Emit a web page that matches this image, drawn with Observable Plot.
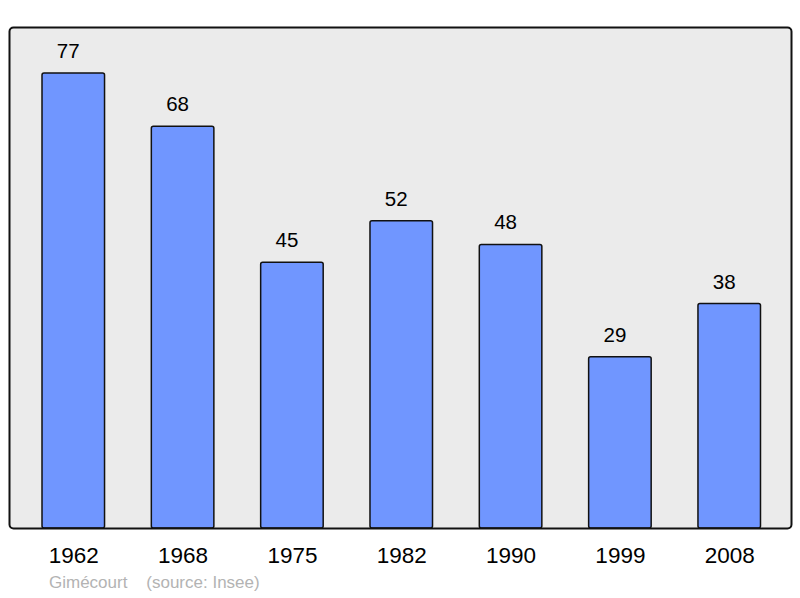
<!DOCTYPE html>
<html>
<head>
<meta charset="utf-8">
<script src="https://cdn.jsdelivr.net/npm/d3@7"></script>
<script src="https://cdn.jsdelivr.net/npm/@observablehq/plot@0.6"></script>
<style>
  body { margin: 0; background: #fff; font-family: "Liberation Sans", Arial, sans-serif; }
  #caption { position: absolute; top: 573px; left: 49px; font-size: 17px; color: #b3b3b3; white-space: pre; }
</style>
</head>
<body>
<div id="chart"></div>
<div id="caption">Gimécourt    (source: Insee)</div>
<script>
const years = ["1962", "1968", "1975", "1982", "1990", "1999", "2008"];
const population = [77, 68, 45, 52, 48, 29, 38];

const data = years.map((y, i) => ({year: y, value: population[i]}));

const chart = Plot.plot({
  width: 800,
  height: 574,
  marginTop: 27,
  marginBottom: 46,
  marginLeft: 9,
  marginRight: 9,
  style: {fontFamily: "Liberation Sans, Arial, sans-serif", background: "#fff"},
  x: {domain: years, range: [10.3, 792.2], paddingInner: 0.428, paddingOuter: 0.29, round: false, label: null},
  y: {domain: [0, 84.8], axis: null},
  marks: [
    Plot.frame({fill: "#ebebeb", stroke: null}),
    Plot.barY(data, {x: "year", y: "value", fill: "#7096ff", stroke: "#111", strokeWidth: 1.5, rx: 2}),
    Plot.text(data, {x: "year", y: "value", text: d => String(d.value), dx: -5.5, dy: -22, fontSize: 20.5, fill: "#000"}),
    Plot.axisX({tickSize: 0, tickPadding: 19, fontSize: 22.5, color: "#000"}),
    Plot.frame({stroke: "#111", strokeWidth: 2, rx: 4})
  ]
});
document.getElementById("chart").appendChild(chart);
</script>
</body>
</html>
